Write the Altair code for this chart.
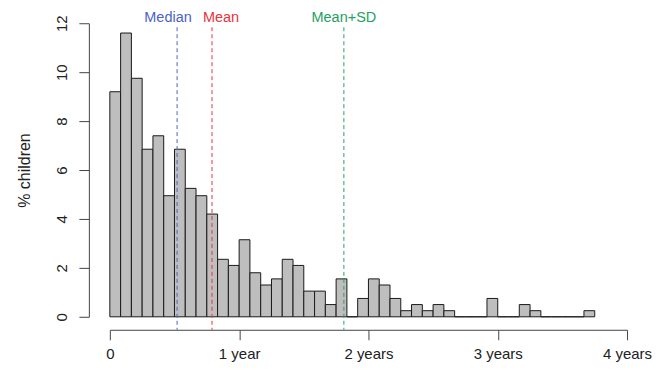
import altair as alt
import pandas as pd

# monthly bins (months since 0), % of children in each bin
pct = [9.2, 11.6, 9.75, 6.85, 7.4, 4.95, 6.85, 5.25, 4.95, 4.2,
       2.35, 2.1, 3.15, 1.8, 1.3, 1.55, 2.35, 2.1, 1.05, 1.05,
       0.5, 1.55, 0.0, 0.75, 1.55, 1.3, 0.75, 0.25, 0.5, 0.25,
       0.5, 0.25, 0.0, 0.0, 0.0, 0.75, 0.0, 0.0, 0.5, 0.25,
       0.0, 0.0, 0.0, 0.0, 0.25]
bin_width = 1 / 12

stat_names = ["Median", "Mean", "Mean+SD"]
stat_values = [0.52, 0.79, 1.81]
stat_label_x = [0.45, 0.86, 1.81]
stat_colors = ["#4a63c8", "#e8323c", "#25a063"]

x_ticks = [0, 1, 2, 3, 4]
x_tick_labels = ["0", "1 year", "2 years", "3 years", "4 years"]
y_ticks = [0, 2, 4, 6, 8, 10, 12]

bars = pd.DataFrame({
    "start": [i * bin_width for i in range(len(pct))],
    "end": [(i + 1) * bin_width for i in range(len(pct))],
    "pct": pct,
})
stats = pd.DataFrame({"name": stat_names, "value": stat_values,
                      "lx": stat_label_x, "color": stat_colors})

W, H = 518, 294
FONT = "Liberation Sans"

label_map = "{" + ",".join(f"'{v}':'{l}'" for v, l in zip(x_ticks, x_tick_labels)) + "}"

xscale = alt.Scale(domain=[0, 4], nice=False, zero=False)
yscale = alt.Scale(domain=[0, 12], nice=False)

bar_layer = alt.Chart(bars).mark_bar(
    color="#bebebe", stroke="#1a1a1a", strokeWidth=1
).encode(
    x=alt.X("start:Q", scale=xscale, axis=alt.Axis(
        values=x_ticks, labelExpr=f"{label_map}[datum.value]",
        title=None, grid=False, offset=13, tickSize=10, tickColor="#444",
        domainColor="#444", labelFontSize=15, labelFont=FONT, labelColor="#222",
        labelPadding=7, labelFlush=False)),
    x2="end:Q",
    y=alt.Y("pct:Q", scale=yscale, axis=alt.Axis(
        values=y_ticks, title="% children", grid=False, offset=21, tickSize=10,
        tickColor="#444", domainColor="#444", labelAngle=270, labelAlign="center",
        labelBaseline="bottom", labelFontSize=15, labelFont=FONT, labelColor="#222",
        labelPadding=9, titleFont=FONT, titleFontSize=16, titleFontWeight="normal",
        titleColor="#222", titlePadding=22)),
    y2=alt.datum(0),
)

rule_layer = alt.Chart(stats).mark_rule(strokeDash=[4, 3], strokeWidth=1).encode(
    x=alt.X("value:Q", scale=xscale),
    y=alt.value(4),
    y2=alt.value(H + 13),
    color=alt.Color("color:N", scale=None, legend=None),
)

text_layer = alt.Chart(stats).mark_text(
    fontSize=14.5, font=FONT, baseline="alphabetic"
).encode(
    x=alt.X("lx:Q", scale=xscale),
    y=alt.value(-1),
    text="name:N",
    color=alt.Color("color:N", scale=None, legend=None),
)

chart = alt.layer(bar_layer, rule_layer, text_layer).properties(
    width=W, height=H,
    background="white",
    autosize=alt.AutoSizeParams(type="none"),
    padding={"left": 102, "top": 15, "right": 30, "bottom": 45},
).configure_view(stroke=None)

chart.save("out.html", embed_options={"renderer": "svg", "actions": False})
